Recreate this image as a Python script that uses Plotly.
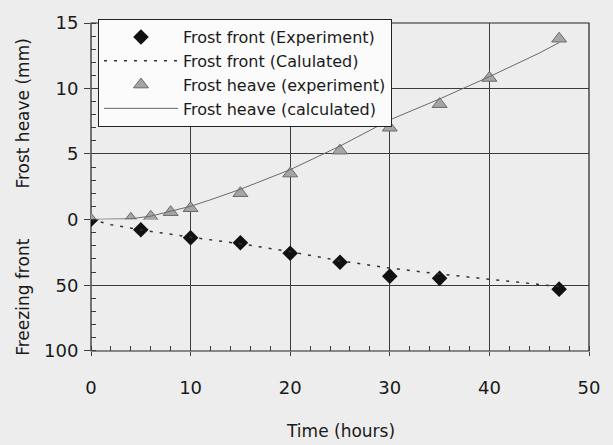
import plotly.graph_objects as go

# ---- data ----
front_exp_t = [0, 5, 10, 15, 20, 25, 30, 35, 47]
front_exp = [0, 7.9, 13.9, 17.7, 25.7, 32.6, 43.1, 44.8, 53.0]

front_calc_t = [0, 2, 5, 8, 10, 15, 20, 25, 30, 35, 40, 45, 47]
front_calc = [0, 4, 8, 11.5, 13.5, 18.5, 24.5, 31.5, 37, 41.5, 45.5, 49.5, 51]

heave_exp_t = [0, 4, 6, 8, 10, 15, 20, 25, 30, 35, 40, 47]
heave_exp = [0, 0.05, 0.2, 0.55, 0.85, 2.0, 3.5, 5.25, 7.0, 8.8, 10.8, 13.8]

heave_calc_t = [0, 2, 4, 6, 8, 10, 12, 15, 20, 25, 30, 35, 40, 45, 47]
heave_calc = [0, 0.0, 0.05, 0.25, 0.6, 1.0, 1.5, 2.3, 3.8, 5.6, 7.6, 9.2, 10.9, 12.7, 13.5]

heave_ticks = [0, 5, 10, 15]
front_ticks = [50, 100]
time_ticks = [0, 10, 20, 30, 40, 50]

FONT = "DejaVu Sans"
GRID = "#3c3c3c"
BG = "#ededed"

fig = go.Figure()

fig.add_trace(go.Scatter(
    x=front_exp_t, y=front_exp, xaxis="x", yaxis="y2",
    mode="markers", name="Frost front (Experiment)",
    marker=dict(symbol="diamond", size=12, color="#111111"),
))
fig.add_trace(go.Scatter(
    x=front_calc_t, y=front_calc, xaxis="x", yaxis="y2",
    mode="lines", name="Frost front (Calulated)",
    line=dict(color="#333333", width=1.5, dash="3px,7px"),
))
fig.add_trace(go.Scatter(
    x=heave_exp_t, y=heave_exp, xaxis="x", yaxis="y",
    mode="markers", name="Frost heave (experiment)",
    marker=dict(symbol="triangle-up", size=13, color="#a5a5a5",
                line=dict(color="#6a6a6a", width=1)),
))
fig.add_trace(go.Scatter(
    x=heave_calc_t, y=heave_calc, xaxis="x", yaxis="y",
    mode="lines", name="Frost heave (calculated)",
    line=dict(color="#6a6a6a", width=1),
))

split = (351 - 217.4) / 333.0

fig.update_layout(
    width=613, height=445,
    margin=dict(l=91, r=24, t=18, b=94),
    paper_bgcolor=BG, plot_bgcolor=BG,
    font=dict(family=FONT, size=18, color="#1a1a1a"),
    showlegend=True,
    legend=dict(
        x=0.014, y=1.012, xanchor="left", yanchor="top",
        bgcolor="#fbfbfb", bordercolor="#222222", borderwidth=1,
        font=dict(family=FONT, size=16, color="#1a1a1a"),
        itemwidth=74, tracegroupgap=0,
    ),
    xaxis=dict(
        range=[0, 50], anchor="y2",
        tickvals=time_ticks, ticks="outside", ticklen=4, tickcolor=GRID,
        ticklabelstandoff=16,
        showgrid=True, gridcolor=GRID, gridwidth=1,
        zeroline=False, showline=False,
        minor=dict(dtick=2, ticks="inside", ticklen=5, tickcolor=GRID, showgrid=False),
        tickfont=dict(family=FONT, size=18),
    ),
    yaxis=dict(
        domain=[split, 1], range=[0, 15], anchor="x",
        tickvals=heave_ticks, ticks="outside", ticklen=6, tickcolor=GRID,
        showgrid=True, gridcolor=GRID, gridwidth=1, zeroline=False,
        minor=dict(dtick=1, ticks="inside", ticklen=5, tickcolor=GRID, showgrid=False),
        tickfont=dict(family=FONT, size=18), ticklabelstandoff=2,
    ),
    yaxis2=dict(
        domain=[0, split], range=[100, 0], anchor="x",
        tickvals=front_ticks, ticks="outside", ticklen=6, tickcolor=GRID,
        showgrid=True, gridcolor=GRID, gridwidth=1, zeroline=False,
        minor=dict(dtick=10, ticks="inside", ticklen=5, tickcolor=GRID, showgrid=False),
        tickfont=dict(family=FONT, size=18), ticklabelstandoff=2,
    ),
    shapes=[dict(type="rect", xref="paper", yref="paper", x0=0, x1=1, y0=0, y1=1,
                 line=dict(color="#222222", width=1.2), fillcolor="rgba(0,0,0,0)",
                 layer="below")],
    annotations=[
        dict(text="Time (hours)", xref="paper", yref="paper", x=0.5, y=-(432 - 351) / 333.0,
             xanchor="center", yanchor="middle", showarrow=False,
             font=dict(family=FONT, size=17)),
        dict(text="Frost heave (mm)", xref="paper", yref="paper", x=(23 - 91) / 498.0,
             y=(351 - 110) / 333.0, textangle=-90, xanchor="center", yanchor="middle",
             showarrow=False, font=dict(family=FONT, size=17)),
        dict(text="Freezing front", xref="paper", yref="paper", x=(23 - 91) / 498.0,
             y=(351 - 297) / 333.0, textangle=-90, xanchor="center", yanchor="middle",
             showarrow=False, font=dict(family=FONT, size=17)),
    ],
)

fig.write_html("out.html")
